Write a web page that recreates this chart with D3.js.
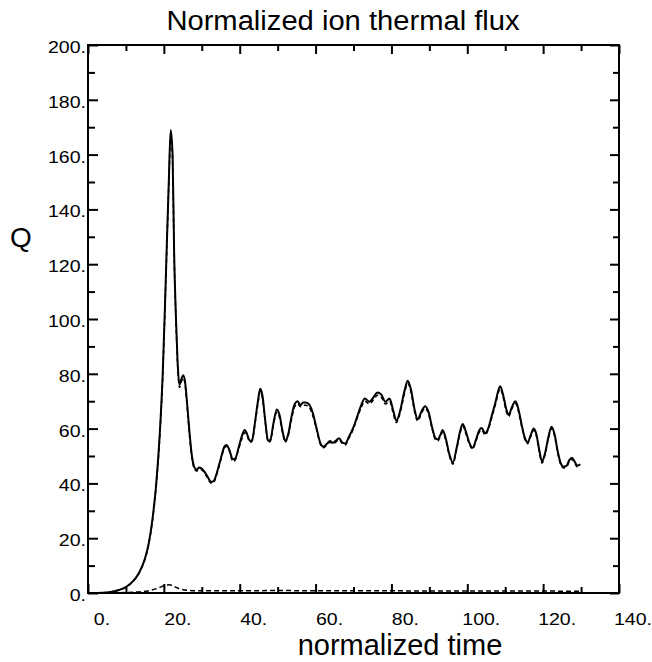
<!DOCTYPE html>
<html>
<head>
    <meta charset="UTF-8">
    <title>Normalized ion thermal flux</title>
    <script src="https://d3js.org/d3.v7.min.js"></script>
    <style>
        body { margin: 0; background: #fff; }
        text { font-family: "Liberation Sans", Arial, Helvetica, sans-serif; fill: #000; }
    </style>
</head>
<body>
    <div id="my_dataviz"></div>

    <script type="text/javascript">

        // normalized time samples for the main (solid) curve
        let timeMain = [0, 4, 6, 8, 10, 12, 13.5, 15, 16, 17, 18, 19, 19.7, 20.3, 20.8, 21.3, 21.8, 22.3, 22.7, 23.2,
            23.6, 24.1, 24.6, 25.1, 25.6, 26.2, 26.8, 27.4, 28, 28.6, 29.3, 29.9, 30.6, 31.5, 32.5, 33.2, 34, 35, 36, 36.5,
            37.2, 38.2, 38.8, 39.7, 40.5, 41.3, 41.8, 42.7, 43.3, 44, 44.8, 45.4, 46, 46.8, 47.5, 48.1, 48.9, 49.8, 50.5, 51.3,
            52, 52.8, 53.6, 54.5, 55.3, 56, 56.7, 57.4, 58.2, 59.2, 60.2, 61.2, 62.1, 63, 63.8, 64.5, 65.3, 66.2, 67, 67.8,
            68.8, 70, 71, 72, 73, 74.2, 75.3, 76.3, 77.3, 78.4, 79.5, 80.4, 81.3, 82.3, 83.4, 84.3, 85.2, 86.1, 86.9, 88,
            88.9, 89.8, 90.8, 91.6, 92.2, 93, 93.5, 94.3, 95.3, 96.2, 97.2, 98.1, 98.8, 99.6, 100.5, 101.4, 102.3, 103.2, 103.8, 104.7,
            105.5, 106.5, 107.5, 108.2, 108.7, 109.5, 110.3, 110.9, 111.8, 112.7, 113.5, 114.4, 115.2, 115.9, 116.7, 117.5, 118.2, 119, 119.7, 120.5,
            121.4, 122.2, 123, 123.8, 124.6, 125.4, 126.2, 126.9, 127.6, 128.3, 129, 129.8];

        // ion thermal flux, solid line
        let fluxSolid = [0, 0.1, 0.4, 1, 2.2, 4.5, 7.5, 12.5, 18, 27, 40, 60, 80, 105, 128, 150, 169, 160, 125, 100,
            85, 76, 78, 79.5, 77, 68, 58, 50, 46, 45, 45.8, 45.5, 44.5, 42.5, 40.5, 41, 44, 49, 53.5, 54,
            52.5, 48.8, 49, 53, 57, 59.5, 58.5, 55.5, 56, 62, 70, 74.5, 72, 62, 55.5, 56, 62, 67, 65, 59,
            55.5, 58, 64, 69, 70, 68.5, 69.5, 69.5, 69, 66, 60.5, 55, 53.4, 54.5, 55.5, 54.8, 55.5, 56.5, 55, 54.6,
            57, 60.5, 64.5, 68.5, 71, 69.8, 71.5, 73.2, 72.5, 69.8, 71, 67, 62.9, 66.5, 73.5, 77.5, 74, 67, 63.4, 66.5,
            68.2, 66, 60, 56.5, 56.1, 58, 59.5, 56.5, 50.5, 47.6, 53, 59, 61.7, 59, 55, 53, 56, 59.5, 60.2, 58.3,
            60, 65, 70, 74, 75.5, 72, 67, 65, 68, 70, 67, 61, 56.5, 55, 57.5, 60, 58, 52, 48, 51,
            57, 60.7, 58, 52, 47.5, 46.1, 46.5, 48.5, 49.4, 48, 46.5, 47];

        // second curve, dashed, almost on top of the solid one
        let fluxDashed = [0, 0.1, 0.4, 1, 2.1, 4.4, 7.3, 12.2, 17.6, 26.5, 39.5, 59, 79, 104, 127, 149, 167, 158, 124, 99,
            84, 75, 77, 78.5, 76, 67, 57, 49.5, 45.5, 44.5, 45, 45, 44, 42, 40, 40.5, 43.5, 48.5, 53, 53.5,
            52, 48, 48.5, 52.5, 56, 58.5, 58, 55, 55.5, 61.5, 69, 73.5, 71, 61.5, 55, 55.5, 61.5, 66, 64, 58.5,
            55, 57.5, 63, 68, 69, 68, 68.5, 68.5, 68, 65, 60, 54.5, 53, 54, 55, 54.5, 55, 56, 54.5, 54,
            56.5, 60, 64, 67.5, 70, 69, 70.5, 72.2, 71.5, 69, 70, 66, 62.2, 65.8, 72.5, 76.5, 73, 66.2, 62.8, 65.8,
            67.5, 65.2, 59.5, 56, 55.5, 57.4, 58.8, 56, 50, 47, 52.5, 58.2, 61, 58.3, 54.5, 52.5, 55.5, 58.8, 59.5, 57.6,
            59.5, 64.2, 69.2, 73.2, 74.5, 71.2, 66.2, 64.4, 67.4, 69.2, 66.2, 60.4, 56, 54.5, 57, 59.4, 57.4, 51.5, 47.4, 50.5,
            56.4, 60, 57.4, 51.5, 47, 45.6, 46, 48, 48.8, 47.5, 46, 46.4];

        // small flux curve along the bottom (dashed)
        let timeLow = [0, 8, 12, 15, 16.5, 18, 19.5, 20.5, 21.5, 22.5, 24, 26, 30, 40, 50, 60, 70, 80, 90, 100, 110, 120, 129.5];
        let fluxLow = [0, 0.1, 0.3, 0.6, 1.0, 1.6, 2.4, 2.9, 3.0, 2.5, 1.6, 1.0, 0.8, 0.8, 0.9, 0.8, 0.8, 0.8, 0.7, 0.7, 0.7, 0.7, 0.6];

        // axis ticks
        let xMajor = [0, 20, 40, 60, 80, 100, 120, 140];
        let xMinor = [10, 30, 50, 70, 90, 110, 130];
        let yMajor = [0, 20, 40, 60, 80, 100, 120, 140, 160, 180, 200];
        let yMinor = [10, 30, 50, 70, 90, 110, 130, 150, 170, 190];

        let margin = { top: 45, right: 33, bottom: 69, left: 88 },
            width = 652 - margin.left - margin.right,
            height = 662 - margin.top - margin.bottom;

        let root = d3.select("#my_dataviz")
            .append("svg")
            .attr("width", 652)
            .attr("height", 662);

        let svg = root.append("g")
            .attr("transform", "translate(" + margin.left + "," + margin.top + ")");

        let x = d3.scaleLinear().domain([0, 140]).range([0, width]);
        let y = d3.scaleLinear().domain([0, 200]).range([height, 0]);

        // ticks on all four sides, pointing inward (IDL style)
        function tickAxis(axis, values, size, transform) {
            let g = svg.append("g")
                .attr("transform", transform)
                .call(axis.tickValues(values).tickSize(-size).tickFormat(""));
            g.select(".domain").remove();
            g.selectAll(".tick line").attr("stroke", "#000").attr("stroke-width", 2);
        }
        tickAxis(d3.axisBottom(x), xMajor, 9, "translate(0," + height + ")");
        tickAxis(d3.axisBottom(x), xMinor, 6, "translate(0," + height + ")");
        tickAxis(d3.axisTop(x), xMajor, 9, "translate(0,0)");
        tickAxis(d3.axisTop(x), xMinor, 6, "translate(0,0)");
        tickAxis(d3.axisLeft(y), yMajor, 10, "translate(0,0)");
        tickAxis(d3.axisLeft(y), yMinor, 7, "translate(0,0)");
        tickAxis(d3.axisRight(y), yMajor, 9, "translate(" + width + ",0)");
        tickAxis(d3.axisRight(y), yMinor, 6, "translate(" + width + ",0)");

        // tick labels
        svg.selectAll(".xlab")
            .data(xMajor)
            .enter()
            .append("text")
            .attr("class", "xlab")
            .attr("transform", d => "translate(" + (x(d) + 14) + "," + (height + 32) + ") scale(1.15,1)")
            .attr("text-anchor", "middle")
            .style("font-size", "17px")
            .text(d => d + ".");

        svg.selectAll(".ylab")
            .data(yMajor)
            .enter()
            .append("text")
            .attr("class", "ylab")
            .attr("transform", d => "translate(-2," + (y(d) + 8) + ") scale(1.15,1)")
            .attr("text-anchor", "end")
            .style("font-size", "17px")
            .text(d => d + ".");

        // curves
        let line = d3.line()
            .x(d => x(d[0]))
            .y(d => y(d[1]))
            .curve(d3.curveMonotoneX);

        svg.append("path")
            .datum(timeMain.map((t, i) => [t, fluxDashed[i]]))
            .attr("fill", "none")
            .attr("stroke", "#000")
            .attr("stroke-width", 1.5)
            .attr("stroke-dasharray", "4,3")
            .attr("d", line);

        svg.append("path")
            .datum(timeMain.map((t, i) => [t, fluxSolid[i]]))
            .attr("fill", "none")
            .attr("stroke", "#000")
            .attr("stroke-width", 2)
            .attr("d", line);

        svg.append("path")
            .datum(timeLow.map((t, i) => [t, fluxLow[i]]))
            .attr("fill", "none")
            .attr("stroke", "#000")
            .attr("stroke-width", 1.5)
            .attr("stroke-dasharray", "5,3")
            .attr("d", line);

        // plot box
        svg.append("rect")
            .attr("width", width)
            .attr("height", height)
            .attr("fill", "none")
            .attr("stroke", "#000")
            .attr("stroke-width", 2);

        // titles
        root.append("text")
            .attr("transform", "translate(343,30) scale(1.08,1)")
            .attr("text-anchor", "middle")
            .style("font-size", "27px")
            .text("Normalized ion thermal flux");

        root.append("text")
            .attr("x", 400)
            .attr("y", 655)
            .attr("text-anchor", "middle")
            .style("font-size", "29px")
            .text("normalized time");

        root.append("text")
            .attr("x", 21)
            .attr("y", 247)
            .attr("text-anchor", "middle")
            .style("font-size", "28px")
            .text("Q");

    </script>
</body>
</html>
